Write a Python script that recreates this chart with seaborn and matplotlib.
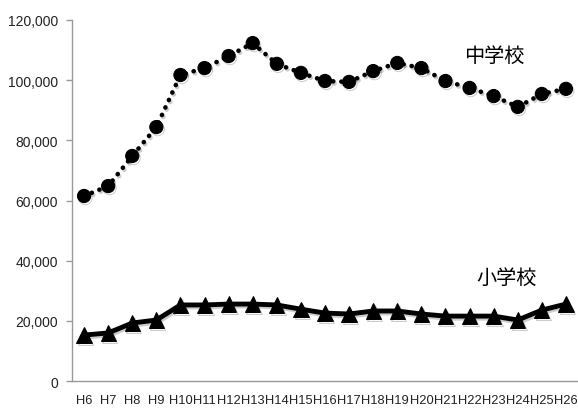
import matplotlib
matplotlib.use("Agg")
import matplotlib.pyplot as plt
import matplotlib.patheffects as pe
import seaborn as sns
import pandas as pd

years = ['H6', 'H7', 'H8', 'H9', 'H10', 'H11', 'H12', 'H13', 'H14', 'H15', 'H16',
         'H17', 'H18', 'H19', 'H20', 'H21', 'H22', 'H23', 'H24', 'H25', 'H26']
junior_high = [61500, 64800, 74800, 84400, 101700, 104000, 108000, 112300, 105400, 102400, 99700,
               99400, 103000, 105700, 104000, 99700, 97400, 94700, 91100, 95400, 97100]
elementary = [15300, 16000, 19300, 20300, 25300, 25300, 25600, 25600, 25300, 23900, 22600,
              22300, 23300, 23300, 22300, 21600, 21600, 21600, 20300, 23600, 25600]

df = pd.DataFrame({'idx': range(len(years)), 'year': years,
                   'jh': junior_high, 'el': elementary})

sns.set_theme(style="white")
plt.rcParams['font.family'] = ['Liberation Sans', 'Noto Sans CJK JP', 'DejaVu Sans']

fig = plt.figure(figsize=(5.78, 4.10), dpi=100)
ax = fig.add_axes([0.1246, 0.068, 0.8754, 0.881])

shadow = [pe.SimpleLineShadow(offset=(1.0, -1.5), alpha=0.2, shadow_color='black'), pe.Normal()]

sns.lineplot(data=df, x='idx', y='jh', ax=ax, color='black', linewidth=3.3,
             linestyle=(0, (0.05, 1.75)), dash_capstyle='round', solid_capstyle='round',
             marker='o', markersize=9.5, markeredgecolor='black', path_effects=shadow)
sns.lineplot(data=df, x='idx', y='el', ax=ax, color='black', linewidth=3.5,
             marker='^', markersize=11, markeredgecolor='black', path_effects=shadow)

ax.text(15.75, 108300, '中学校', fontsize=14.5, color='black', va='center',
        family=['Noto Sans CJK JP'])
ax.text(16.3, 34500, '小学校', fontsize=14.5, color='black', va='center',
        family=['Noto Sans CJK JP'])

ax.set_xlim(-0.5, len(years) - 0.5)
ax.set_ylim(0, 120000)
ax.set_yticks(range(0, 120001, 20000))
ax.set_yticklabels([f'{v:,}' for v in range(0, 120001, 20000)], fontsize=10, color='#222222')
ax.set_xticks(range(len(years)))
ax.set_xticklabels(years, fontsize=9.3, color='#222222')
ax.set_xticks([i - 0.5 for i in range(len(years) + 1)], minor=True)
ax.tick_params(axis='x', which='major', length=0, pad=9)
ax.tick_params(axis='x', which='minor', length=4, color='#999999', width=1, direction='out')
ax.tick_params(axis='y', length=4, color='#999999', width=1, direction='out', left=True, pad=6)
ax.set_xlabel('')
ax.set_ylabel('')

for s in ['top', 'right']:
    ax.spines[s].set_visible(False)
for s in ['left', 'bottom']:
    ax.spines[s].set_color('#999999')
    ax.spines[s].set_linewidth(1)

fig.savefig('out.png', dpi=100)
